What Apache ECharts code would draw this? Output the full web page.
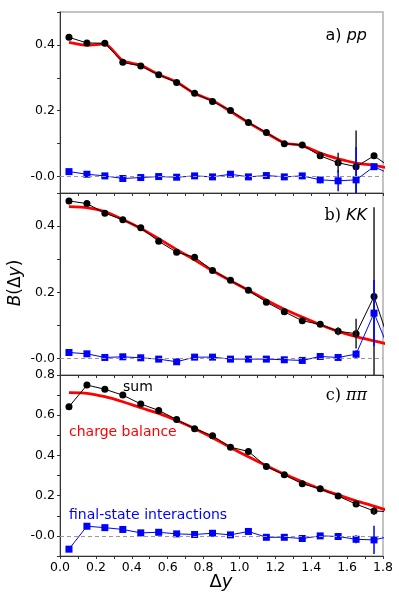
<!DOCTYPE html>
<html>
<head>
<meta charset="utf-8">
<script src="https://cdn.jsdelivr.net/npm/echarts@6/dist/echarts.min.js"></script>
<style>
  html, body { margin: 0; padding: 0; background: #fff; }
  #chart { width: 399px; height: 598px; }
</style>
</head>
<body>
<div id="chart"></div>
<script>
// bin centres in delta-y
const dy = [0.05, 0.15, 0.25, 0.35, 0.45, 0.55, 0.65, 0.75, 0.85, 0.95, 1.05, 1.15, 1.25, 1.35, 1.45, 1.55, 1.65, 1.75, 1.85];

// a) pp
const ppSum    = [0.423, 0.406, 0.405, 0.347, 0.336, 0.309, 0.286, 0.253, 0.228, 0.201, 0.164, 0.134, 0.100, 0.096, 0.063, 0.042, 0.030, 0.063, 0.025];
const ppCharge = [0.408, 0.399, 0.403, 0.352, 0.338, 0.310, 0.287, 0.252, 0.231, 0.198, 0.164, 0.132, 0.102, 0.094, 0.071, 0.054, 0.041, 0.034, 0.024];
const ppFsi    = [0.015, 0.007, 0.002, -0.006, -0.003, 0.000, -0.002, 0.002, -0.001, 0.007, -0.001, 0.003, -0.001, 0.002, -0.010, -0.013, -0.010, 0.030, 0.005];
const ppSumErr = [0, 0, 0, 0, 0, 0, 0, 0, 0, 0, 0, 0, 0, 0, 0.008, 0.03, 0.11, 0, 0];
const ppFsiErr = [0, 0, 0, 0, 0, 0, 0, 0, 0, 0, 0, 0, 0, 0, 0.01, 0.032, 0.1, 0, 0];

// b) KK
const kkSum    = [0.476, 0.468, 0.439, 0.419, 0.395, 0.354, 0.321, 0.306, 0.266, 0.236, 0.206, 0.170, 0.141, 0.114, 0.103, 0.082, 0.075, 0.187, 0.025];
const kkCharge = [0.459, 0.456, 0.444, 0.420, 0.393, 0.362, 0.329, 0.298, 0.265, 0.235, 0.206, 0.176, 0.149, 0.125, 0.102, 0.082, 0.066, 0.053, 0.040];
const kkFsi    = [0.018, 0.014, 0.003, 0.005, 0.002, -0.002, -0.010, 0.004, 0.004, -0.002, -0.002, -0.002, -0.004, -0.006, 0.006, 0.003, 0.013, 0.137, 0.005];
const kkSumErr = [0, 0, 0, 0, 0, 0, 0, 0, 0, 0, 0, 0, 0, 0, 0, 0.012, 0.045, 0.27, 0];
const kkFsiErr = [0, 0, 0, 0, 0, 0, 0, 0, 0, 0, 0, 0, 0, 0, 0, 0, 0.012, 0.1, 0];

// c) pi pi
const pipiSum    = [0.642, 0.750, 0.729, 0.700, 0.656, 0.624, 0.579, 0.533, 0.498, 0.441, 0.420, 0.345, 0.304, 0.259, 0.234, 0.198, 0.158, 0.124, 0.120];
const pipiCharge = [0.712, 0.709, 0.692, 0.667, 0.637, 0.609, 0.574, 0.534, 0.488, 0.440, 0.393, 0.349, 0.307, 0.269, 0.234, 0.204, 0.174, 0.148, 0.120];
const pipiFsi    = [-0.066, 0.048, 0.041, 0.032, 0.015, 0.018, 0.010, 0.007, 0.013, 0.005, 0.022, -0.007, -0.007, -0.013, 0.000, -0.003, -0.017, -0.020, 0.000];
const pipiSumErr = [0, 0, 0, 0, 0, 0, 0, 0, 0, 0, 0, 0, 0, 0, 0, 0, 0.01, 0.02, 0];
const pipiFsiErr = [0, 0, 0, 0, 0, 0, 0, 0, 0, 0, 0, 0, 0, 0, 0, 0, 0.02, 0.07, 0];

const xTicks = ['0.0', '0.2', '0.4', '0.6', '0.8', '1.0', '1.2', '1.4', '1.6', '1.8'];

const RED = '#ff0000', BLACK = '#000000', BLUE = '#0000ff';
const FONT = 'DejaVu Sans';

function pairs(ys) { return dy.map((x, i) => [x, ys[i]]); }
function errs(ys, es) { return dy.map((x, i) => [x, ys[i], es[i]]).filter(d => d[2] > 0); }

function yFmt(v) {
  const r = Math.round(v * 10);
  if (Math.abs(v * 10 - r) > 0.01 || r < 0 || r % 2 !== 0) return '';
  return r === 0 ? '-0.0' : (r / 10).toFixed(1);
}
function xFmt(v) {
  const s = v.toFixed(1);
  return xTicks.indexOf(s) >= 0 ? s : '';
}

const panels = [
  { top: 12, height: 181, min: -0.05, max: 0.5, sum: ppSum, charge: ppCharge, fsi: ppFsi, se: ppSumErr, fe: ppFsiErr },
  { top: 193, height: 182, min: -0.05, max: 0.5, sum: kkSum, charge: kkCharge, fsi: kkFsi, se: kkSumErr, fe: kkFsiErr },
  { top: 375, height: 181, min: -0.1, max: 0.8, sum: pipiSum, charge: pipiCharge, fsi: pipiFsi, se: pipiSumErr, fe: pipiFsiErr }
];

const grid = [], xAxis = [], yAxis = [], series = [];

function errorBars(idx, data, color) {
  return {
    type: 'custom', xAxisIndex: idx, yAxisIndex: idx, clip: true, z: 4,
    data: data,
    renderItem: function (params, api) {
      const x = api.value(0), y = api.value(1), e = api.value(2);
      const p1 = api.coord([x, y + e]), p2 = api.coord([x, y - e]);
      return {
        type: 'line',
        shape: { x1: p1[0], y1: p1[1], x2: p2[0], y2: p2[1] },
        style: { stroke: color, lineWidth: 1.5 }
      };
    }
  };
}

panels.forEach((p, i) => {
  const last = i === panels.length - 1;
  grid.push({ left: 60, right: 16, top: p.top, height: p.height, show: true, borderColor: '#b0b0b0', borderWidth: 1.5 });
  xAxis.push({
    type: 'value', gridIndex: i, min: 0, max: 1.8, interval: 0.1,
    axisLine: { show: true, onZero: false, lineStyle: { color: '#333', width: 1 } },
    axisTick: { show: true, length: 3, lineStyle: { color: '#333' } },
    splitLine: { show: false },
    axisLabel: { show: last, formatter: xFmt, color: '#000', fontFamily: FONT, fontSize: 12.5, margin: 5, showMinLabel: true, showMaxLabel: true }
  });
  const yOpt = {
    type: 'value', gridIndex: i, min: p.min, max: p.max,
    axisLine: { show: true, lineStyle: { color: '#333', width: 1 } },
    axisTick: { show: true, length: 3, lineStyle: { color: '#333' } },
    splitLine: { show: false },
    axisLabel: { formatter: yFmt, color: '#000', fontFamily: FONT, fontSize: 12.5, margin: 5, showMinLabel: true, showMaxLabel: true }
  };
  if (p.min === -0.1) yOpt.interval = 0.1;
  else { yOpt.minInterval = 0.1; yOpt.maxInterval = 0.1; }
  yAxis.push(yOpt);

  series.push({
    type: 'line', xAxisIndex: i, yAxisIndex: i, data: pairs(p.charge),
    showSymbol: false, symbol: 'none', smooth: 0.2, z: 2,
    lineStyle: { color: RED, width: 2.8 },
    markLine: {
      silent: true, symbol: 'none', label: { show: false },
      lineStyle: { color: '#999', type: [4, 3], width: 1 },
      data: [{ yAxis: 0 }]
    }
  });
  series.push(errorBars(i, errs(p.sum, p.se), '#222'));
  series.push(errorBars(i, errs(p.fsi, p.fe), BLUE));
  series.push({
    type: 'line', xAxisIndex: i, yAxisIndex: i, data: pairs(p.sum),
    symbol: 'circle', symbolSize: 7, z: 3,
    itemStyle: { color: BLACK }, lineStyle: { color: BLACK, width: 1 }
  });
  series.push({
    type: 'line', xAxisIndex: i, yAxisIndex: i, data: pairs(p.fsi),
    symbol: 'rect', symbolSize: 7, z: 3,
    itemStyle: { color: BLUE }, lineStyle: { color: BLUE, width: 1 }
  });
});

const chart = echarts.init(document.getElementById('chart'));
chart.setOption({
  animation: false,
  backgroundColor: '#fff',
  grid: grid, xAxis: xAxis, yAxis: yAxis, series: series,
  graphic: [
    { type: 'text', x: 367, y: 36, style: {
        text: '{n|a) }{i|pp}', align: 'right', verticalAlign: 'middle',
        rich: { n: { fontFamily: FONT, fontSize: 16, fill: '#000' }, i: { fontFamily: FONT, fontStyle: 'italic', fontSize: 16, fill: '#000' } } } },
    { type: 'text', x: 367, y: 216, style: {
        text: '{n|b) }{i|KK}', align: 'right', verticalAlign: 'middle',
        rich: { n: { fontFamily: 'DejaVu Serif', fontSize: 16, fill: '#000' }, i: { fontFamily: FONT, fontStyle: 'italic', fontSize: 16, fill: '#000' } } } },
    { type: 'text', x: 367, y: 396, style: {
        text: '{n|c) }{i|ππ}', align: 'right', verticalAlign: 'middle',
        rich: { n: { fontFamily: 'DejaVu Serif', fontSize: 16, fill: '#000' }, i: { fontFamily: 'DejaVu Serif', fontStyle: 'italic', fontSize: 16, fill: '#000' } } } },
    { type: 'text', x: 123, y: 387, style: { text: 'sum', fontFamily: FONT, fontSize: 14, fill: BLACK, verticalAlign: 'middle' } },
    { type: 'text', x: 69, y: 432, style: { text: 'charge balance', fontFamily: FONT, fontSize: 14, fill: RED, verticalAlign: 'middle' } },
    { type: 'text', x: 69, y: 515, style: { text: 'final-state interactions', fontFamily: FONT, fontSize: 14, fill: BLUE, verticalAlign: 'middle' } },
    { type: 'text', x: 16, y: 283, rotation: Math.PI / 2, style: {
        text: '{i|B}{n|(Δ}{i|y}{n|)}', align: 'center', verticalAlign: 'middle',
        rich: { n: { fontFamily: FONT, fontSize: 17, fill: '#000' }, i: { fontFamily: FONT, fontStyle: 'italic', fontSize: 17, fill: '#000' } } } },
    { type: 'text', x: 221, y: 582, style: {
        text: '{n|Δ}{i|y}', align: 'center', verticalAlign: 'middle',
        rich: { n: { fontFamily: FONT, fontSize: 18, fill: '#000' }, i: { fontFamily: FONT, fontStyle: 'italic', fontSize: 18, fill: '#000' } } } }
  ]
});
</script>
</body>
</html>
